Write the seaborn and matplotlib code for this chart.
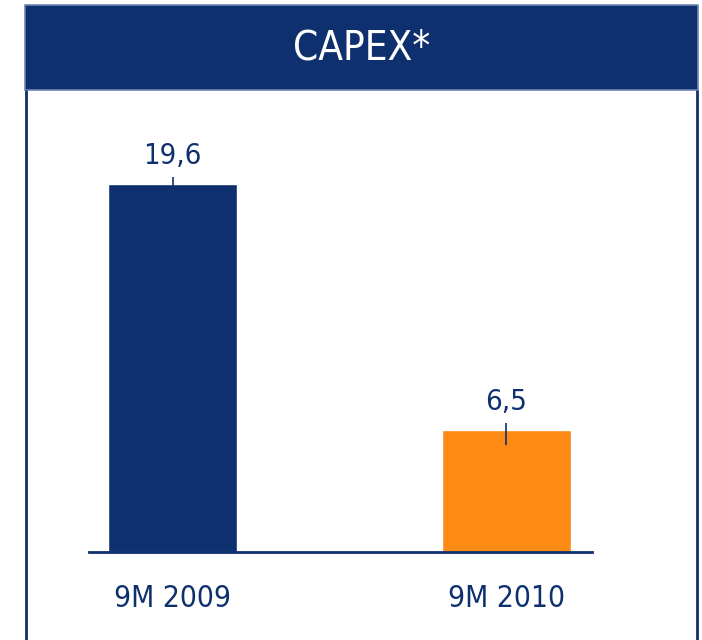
import matplotlib
matplotlib.use("Agg")
import matplotlib.pyplot as plt
from matplotlib.patches import Rectangle
from matplotlib.lines import Line2D
import seaborn as sns
import pandas as pd

# data
periods = ["9M 2009", "9M 2010"]
capex = [19.6, 6.5]
value_labels = ["19,6", "6,5"]
title = "CAPEX*"

navy = "#0e306e"
orange = "#fd8a14"

sns.set_style("white")
plt.rcParams["font.family"] = ["DejaVu Sans"]
plt.rcParams["font.stretch"] = "condensed"

df = pd.DataFrame({"period": periods, "capex": capex})

fig = plt.figure(figsize=(7.02, 6.4), dpi=100)
ax = fig.add_axes([0.1268, 0.1375, 0.7165, 0.70625])

sns.barplot(data=df, x="period", y="capex", hue="period",
            palette=[navy, orange], width=0.386, dodge=False,
            legend=False, saturation=1, ax=ax)

ax.set_xlim(-0.25, 1.256)
ax.set_ylim(0, 24.07)

# value labels with small leader lines
for i, (v, lab) in enumerate(zip(capex, value_labels)):
    ax.vlines(i, v - 0.8, v + 0.35, color=navy, lw=1.2)
    ax.text(i, v + 0.75, lab, ha="center", va="bottom", color=navy, fontsize=21)

# clean axes: only the baseline
for s in ["top", "right", "left"]:
    ax.spines[s].set_visible(False)
ax.spines["bottom"].set_color(navy)
ax.spines["bottom"].set_linewidth(2)
ax.set_yticks([])
ax.set_xlabel("")
ax.set_ylabel("")
ax.tick_params(axis="x", length=0, pad=23, labelsize=21.5, colors=navy)

# header band and frame
W, H = 702, 640
fig.add_artist(Rectangle((25 / W, 1 - 90 / H), 673 / W, 85 / H,
                         transform=fig.transFigure, facecolor=navy,
                         edgecolor="#6f86b0", lw=1.2))
fig.text(362 / W, 1 - 48 / H, title, ha="center", va="center",
         color="white", fontsize=29)
fig.add_artist(Line2D([26 / W, 26 / W], [0, 1 - 91 / H],
                      transform=fig.transFigure, color=navy, lw=2))
fig.add_artist(Line2D([697 / W, 697 / W], [0, 1 - 91 / H],
                      transform=fig.transFigure, color=navy, lw=2))

fig.savefig("out.png", dpi=100)
